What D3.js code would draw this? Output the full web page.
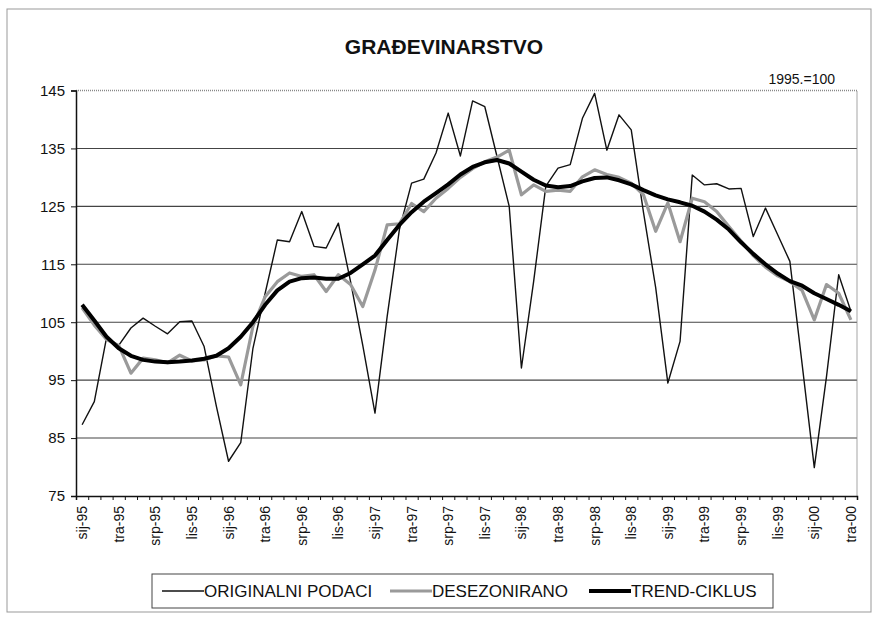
<!DOCTYPE html>
<html>
<head>
<meta charset="utf-8">
<script src="https://cdn.jsdelivr.net/npm/d3@7/dist/d3.min.js"></script>
<style>
body { margin: 0; background: #fff; }
text { font-family: Arial, "Liberation Sans", sans-serif; fill: #111; }
</style>
</head>
<body>
<script>
// month labels (Croatian), Jan 1995 - Apr 2000
const monthNames = ["sij", "velj", "ožu", "tra", "svi", "lip", "srp", "kol", "ruj", "lis", "stu", "pro"]
const years = ["95", "96", "97", "98", "99", "00"]
const yTicks = [75, 85, 95, 105, 115, 125, 135, 145]

const originalni = [87.3, 91.3, 102.3, 101, 104, 105.7, 104.3, 103, 105.1, 105.2, 100.8, 90.5,
    81, 84.2, 100.5, 110, 119.2, 118.9, 124.1, 118.1, 117.8, 122.1, 112, 101,
    89.3, 106, 121, 129, 129.7, 134.2, 141.1, 133.7, 143.2, 142.2, 133.6, 125,
    97.1, 112, 128.5, 131.6, 132.2, 140.2, 144.5, 134.7, 140.8, 138.2, 124, 111,
    94.5, 101.7, 130.4, 128.7, 128.9, 128.0, 128.1, 119.8, 124.7, 120.1, 115.5, 97.8,
    79.9, 95.6, 113.2, 106.9]

const desezonirano = [107.5, 104.5, 102, 101, 96.2, 98.8, 98.5, 98.0, 99.3, 98.3, 98.5, 99.2,
    99.0, 94.2, 104.3, 109.4, 112.0, 113.5, 112.9, 113.2, 110.3, 113.2, 111.5, 107.7,
    114, 121.8, 122, 125.5, 124.1, 126.4, 128.1, 130, 131.5, 132.7, 133.5, 134.7,
    127.0, 128.7, 127.6, 127.8, 127.6, 130.1, 131.3, 130.5, 130, 129, 127, 120.7,
    125.6, 118.9, 126.4, 125.8, 124.1, 121.5, 119, 116.5, 114.5, 113, 112, 110.5,
    105.4, 111.5, 110, 105.4]

const trend = [108, 105.3, 102.5, 100.5, 99.2, 98.5, 98.2, 98.1, 98.2, 98.4, 98.7, 99.2,
    100.5, 102.5, 105, 108, 110.5, 112, 112.6, 112.7, 112.5, 112.5, 113.5, 115,
    116.5, 119.2, 121.8, 124, 125.8, 127.3, 128.8, 130.5, 131.8, 132.6, 133.0, 132.4,
    131.0, 129.6, 128.6, 128.3, 128.5, 129.3, 129.9, 130.0, 129.5, 128.8, 127.8, 126.9,
    126.2, 125.7, 125.1, 124.1, 122.7, 121.0, 118.8, 116.8, 115.0, 113.4, 112.1, 111.3,
    110.0, 109.0, 108.0, 106.9]

const months = []
years.forEach(yr => monthNames.forEach(m => months.push(m + "-" + yr)))
months.length = originalni.length

const width = 877, height = 617
const plot = { left: 76, right: 857, top: 90.5, bottom: 496 }

const svg = d3.select("body").append("svg")
    .attr("width", width)
    .attr("height", height)

// outer frame
svg.append("rect")
    .attr("x", 7).attr("y", 9)
    .attr("width", 864).attr("height", 603)
    .attr("fill", "#fff")
    .attr("stroke", "#999")

const x = d3.scalePoint()
    .domain(months)
    .range([plot.left, plot.right])
    .padding(0.5)

const xb = d3.scaleLinear()
    .domain([0, months.length])
    .range([plot.left, plot.right])

const y = d3.scaleLinear()
    .domain([75, 145])
    .range([plot.bottom, plot.top])

// title
svg.append("text")
    .attr("x", 444).attr("y", 54)
    .attr("text-anchor", "middle")
    .style("font-size", "21px")
    .style("font-weight", "bold")
    .text("GRAĐEVINARSTVO")

svg.append("text")
    .attr("x", 835).attr("y", 84)
    .attr("text-anchor", "end")
    .style("font-size", "14px")
    .text("1995.=100")

// gridlines
svg.append("g")
    .selectAll("line")
    .data(yTicks.slice(1, -1))
    .enter()
    .append("line")
        .attr("x1", plot.left).attr("x2", plot.right)
        .attr("y1", d => y(d)).attr("y2", d => y(d))
        .attr("stroke", "#444")
        .attr("stroke-width", 1.1)

// top and right plot border (dotted grey)
svg.append("path")
    .attr("d", `M${plot.left},${y(145)}H${plot.right}V${plot.bottom}`)
    .attr("fill", "none")
    .attr("stroke", "#888")
    .attr("stroke-width", 1.5)
    .attr("stroke-dasharray", "1,1")

// y axis
const yAxis = svg.append("g")
    .attr("transform", "translate(" + plot.left + ",0)")
    .call(d3.axisLeft(y).tickValues(yTicks).tickSize(5).tickPadding(6))
yAxis.selectAll("text").style("font-size", "15px").attr("fill", "#111")
yAxis.selectAll("line").attr("stroke", "#111")
yAxis.select(".domain").attr("stroke", "#111").attr("stroke-width", 1.5)

// x axis: ticks at every category boundary, labels every 3rd month
const xAxis = svg.append("g")
    .attr("transform", "translate(0," + plot.bottom + ")")
    .call(d3.axisBottom(xb).tickValues(d3.range(0, months.length + 1)).tickSize(4).tickFormat(""))
xAxis.selectAll("line").attr("stroke", "#111")
xAxis.select(".domain").attr("stroke", "#111").attr("stroke-width", 1.5)

svg.append("g")
    .selectAll("text")
    .data(months.filter((d, i) => i % 3 === 0))
    .enter()
    .append("text")
        .attr("transform", d => "translate(" + (x(d) + 5) + "," + (plot.bottom + 10) + ") rotate(-90)")
        .attr("text-anchor", "end")
        .style("font-size", "14px")
        .text(d => d)

// lines
const line = d3.line()
    .x((d, i) => x(months[i]))
    .y(d => y(d))

svg.append("path")
    .attr("d", line(originalni))
    .attr("fill", "none")
    .attr("stroke", "#111")
    .attr("stroke-width", 1.4)
    .attr("stroke-linejoin", "round")

svg.append("path")
    .attr("d", line(desezonirano))
    .attr("fill", "none")
    .attr("stroke", "#9a9a9a")
    .attr("stroke-width", 3.2)
    .attr("stroke-linejoin", "round")

svg.append("path")
    .attr("d", line(trend))
    .attr("fill", "none")
    .attr("stroke", "#000")
    .attr("stroke-width", 4)
    .attr("stroke-linejoin", "round")

// legend
const legend = svg.append("g")
svg.append("rect")
    .attr("x", 152).attr("y", 574)
    .attr("width", 621).attr("height", 34)
    .attr("fill", "none")
    .attr("stroke", "#444")

const legendItems = [
    { name: "ORIGINALNI PODACI", x: 162, color: "#111", w: 1.4 },
    { name: "DESEZONIRANO", x: 390, color: "#9a9a9a", w: 3.2 },
    { name: "TREND-CIKLUS", x: 589, color: "#000", w: 4 }
]

const item = legend.selectAll("g")
    .data(legendItems)
    .enter()
    .append("g")
        .attr("transform", d => "translate(" + d.x + ",591)")

item.append("line")
    .attr("x1", 0).attr("x2", 42)
    .attr("stroke", d => d.color)
    .attr("stroke-width", d => d.w)

item.append("text")
    .attr("x", 42).attr("y", 6)
    .style("font-size", "17px")
    .text(d => d.name)
</script>
</body>
</html>
